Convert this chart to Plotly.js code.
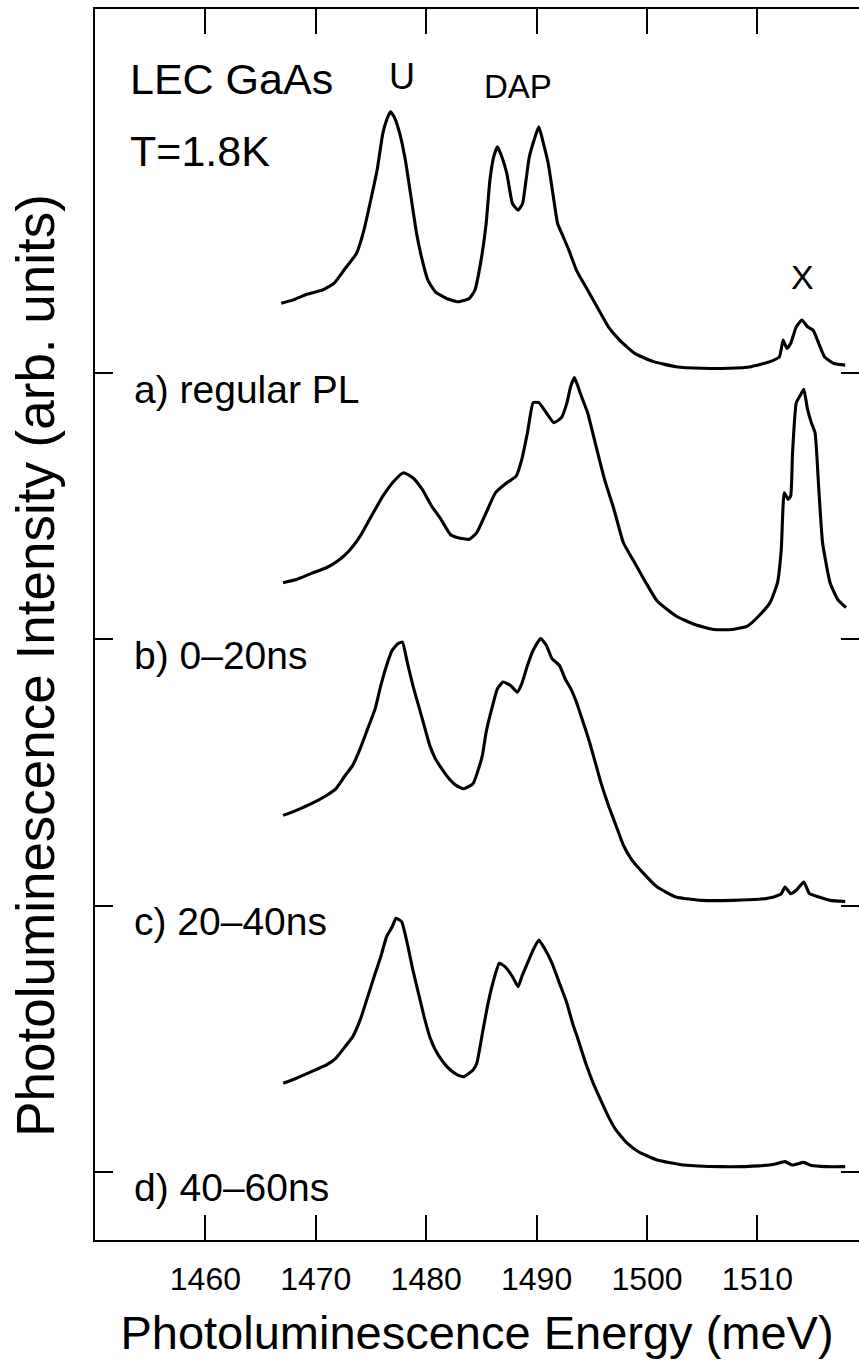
<!DOCTYPE html>
<html>
<head>
<meta charset="utf-8">
<script src="https://cdn.plot.ly/plotly-3.0.1.min.js"></script>
<style>
  html, body { margin: 0; padding: 0; background: #fff; overflow: hidden; }
  #chart { width: 859px; height: 1369px; }
</style>
</head>
<body>
<div id="chart"></div>
<script>
// ---- Data (energy in meV, intensity in arb. units relative to each baseline) ----
const spectrumLabels = ["a) regular PL", "b) 0\u201320ns", "c) 20\u201340ns", "d) 40\u201360ns"];

const energyA = [1466.87,1467.89,1469.26,1470.62,1471.64,1472.66,1473.68,1474.36,1475.04,1475.55,1476.07,1476.41,1476.75,1477.09,1477.60,1478.11,1478.62,1479.13,1479.64,1480.15,1480.83,1481.85,1482.88,1483.90,1484.41,1484.92,1485.43,1485.77,1486.11,1486.45,1486.79,1487.30,1487.81,1488.32,1488.73,1489.00,1489.34,1489.86,1490.20,1490.54,1491.05,1491.56,1491.90,1492.41,1492.92,1493.60,1494.45,1495.47,1496.50,1497.52,1498.88,1500.58,1502.62,1505.01,1507.39,1509.43,1511.14,1511.99,1512.33,1512.67,1513.01,1513.52,1514.03,1514.54,1515.05,1515.56,1516.08,1516.93,1517.95];
const intensityA = [0.262,0.274,0.297,0.312,0.337,0.393,0.449,0.537,0.662,0.762,0.900,0.950,0.981,0.963,0.900,0.800,0.662,0.524,0.424,0.349,0.305,0.280,0.268,0.280,0.312,0.412,0.562,0.725,0.812,0.850,0.819,0.750,0.637,0.612,0.637,0.712,0.812,0.887,0.925,0.875,0.787,0.650,0.562,0.512,0.462,0.387,0.324,0.249,0.174,0.124,0.074,0.043,0.024,0.018,0.018,0.024,0.043,0.061,0.124,0.093,0.111,0.174,0.199,0.174,0.161,0.111,0.061,0.036,0.030];

const energyB = [1467.04,1468.23,1469.60,1470.96,1471.98,1473.00,1474.02,1475.04,1476.07,1477.09,1477.94,1478.79,1479.64,1480.49,1481.34,1482.19,1482.88,1483.90,1484.58,1485.43,1486.28,1487.30,1488.15,1488.66,1489.17,1489.69,1490.20,1490.88,1491.56,1492.24,1492.75,1493.09,1493.43,1493.94,1494.62,1495.30,1496.15,1497.01,1497.86,1498.88,1499.90,1500.92,1502.62,1504.33,1506.03,1507.73,1509.09,1510.12,1511.14,1511.82,1512.16,1512.43,1512.77,1513.01,1513.18,1513.52,1513.93,1514.20,1514.54,1514.88,1515.22,1515.56,1515.90,1516.58,1517.26,1518.02];
const intensityB = [0.213,0.225,0.248,0.269,0.294,0.332,0.388,0.463,0.538,0.595,0.626,0.607,0.563,0.501,0.451,0.394,0.382,0.376,0.401,0.476,0.551,0.588,0.613,0.676,0.776,0.889,0.889,0.851,0.814,0.832,0.889,0.951,0.983,0.926,0.851,0.739,0.601,0.488,0.363,0.288,0.213,0.144,0.088,0.056,0.037,0.037,0.050,0.088,0.138,0.213,0.338,0.551,0.526,0.538,0.701,0.889,0.920,0.939,0.864,0.814,0.776,0.563,0.363,0.213,0.150,0.119];

const energyC = [1467.04,1468.23,1469.60,1470.96,1471.81,1472.66,1473.34,1474.02,1474.70,1475.38,1475.89,1476.41,1476.92,1477.43,1477.84,1478.28,1478.79,1479.30,1479.81,1480.32,1480.83,1481.51,1482.19,1482.70,1483.39,1484.24,1484.75,1485.09,1485.43,1485.94,1486.45,1486.96,1487.64,1488.25,1488.66,1489.17,1489.69,1490.37,1490.88,1491.39,1492.07,1492.58,1493.09,1493.60,1494.11,1494.79,1495.30,1495.81,1496.50,1497.18,1497.86,1498.54,1499.56,1500.92,1502.62,1505.01,1507.73,1510.12,1511.48,1512.16,1512.50,1513.01,1513.52,1514.20,1514.71,1515.56,1516.58,1517.95];
const intensityC = [0.339,0.358,0.383,0.414,0.439,0.489,0.527,0.590,0.665,0.740,0.827,0.902,0.959,0.984,0.990,0.915,0.827,0.752,0.677,0.602,0.552,0.508,0.471,0.452,0.439,0.458,0.515,0.565,0.652,0.740,0.815,0.840,0.827,0.802,0.834,0.902,0.959,1.003,0.978,0.928,0.902,0.852,0.815,0.765,0.702,0.615,0.540,0.464,0.377,0.302,0.227,0.177,0.127,0.070,0.033,0.020,0.020,0.024,0.033,0.045,0.070,0.045,0.058,0.089,0.045,0.033,0.020,0.016];

const energyD = [1467.04,1468.23,1469.60,1470.96,1471.81,1472.66,1473.34,1474.02,1474.70,1475.38,1475.89,1476.41,1476.92,1477.26,1477.77,1478.28,1478.79,1479.30,1479.81,1480.32,1480.83,1481.51,1482.19,1482.88,1483.39,1484.24,1484.58,1485.09,1485.60,1486.11,1486.62,1487.13,1487.81,1488.32,1488.66,1489.17,1489.69,1490.20,1490.71,1491.39,1492.07,1492.75,1493.26,1493.77,1494.45,1495.13,1495.81,1496.50,1497.18,1498.20,1499.22,1500.92,1503.31,1506.71,1510.12,1511.65,1512.50,1513.18,1514.20,1514.88,1516.24,1517.95];
const intensityD = [0.333,0.352,0.377,0.402,0.427,0.471,0.508,0.571,0.658,0.746,0.809,0.884,0.921,0.953,0.940,0.859,0.759,0.671,0.583,0.508,0.458,0.414,0.383,0.364,0.358,0.383,0.408,0.521,0.633,0.721,0.784,0.771,0.734,0.696,0.734,0.784,0.834,0.871,0.840,0.784,0.709,0.633,0.558,0.496,0.408,0.333,0.270,0.208,0.158,0.108,0.076,0.045,0.026,0.020,0.023,0.030,0.039,0.026,0.036,0.024,0.020,0.020];

const xTickValues = [1460, 1470, 1480, 1490, 1500, 1510];
const xTickLabels = ["1460", "1470", "1480", "1490", "1500", "1510"];
const xAxisTitle = "Photoluminescence Energy (meV)";
const yAxisTitle = "Photoluminescence Intensity (arb. units)";

// ---- Presentation ----
const baselineOffsets = [3, 2, 1, 0];
const FONT = "'Liberation Sans', Arial, sans-serif";
const ink = "#000";

const series = [
  [energyA, intensityA],
  [energyB, intensityB],
  [energyC, intensityC],
  [energyD, intensityD]
];

const traces = series.map(([xs, ys], i) => ({
  type: "scatter",
  mode: "lines",
  name: spectrumLabels[i],
  x: xs,
  y: ys.map(v => v + baselineOffsets[i]),
  line: { color: ink, width: 3.1, shape: "spline", smoothing: 0.45 },
  hoverinfo: "skip"
}));

const dataAnnotations = [
  { text: "LEC GaAs", x: 1453.0, y: 4.104, xanchor: "left", yanchor: "middle", size: 43 },
  { text: "T=1.8K", x: 1453.0, y: 3.834, xanchor: "left", yanchor: "middle", size: 43 },
  { text: "U", x: 1477.8, y: 4.112, xanchor: "center", yanchor: "middle", size: 36 },
  { text: "DAP", x: 1488.3, y: 4.078, xanchor: "center", yanchor: "middle", size: 33 },
  { text: "X", x: 1514.1, y: 3.361, xanchor: "center", yanchor: "middle", size: 34 }
].concat(spectrumLabels.map((t, i) => ({
  text: t, x: 1453.35, y: baselineOffsets[i] - 0.06, xanchor: "left", yanchor: "middle", size: 39
}))).map(a => ({
  text: a.text, x: a.x, y: a.y, xref: "x", yref: "y",
  xanchor: a.xanchor, yanchor: a.yanchor, showarrow: false,
  font: { family: FONT, size: a.size, color: ink }
}));

const yTitleAnnotation = {
  text: yAxisTitle,
  xref: "paper", yref: "paper",
  x: -0.079, y: 0.467,
  xanchor: "center", yanchor: "middle",
  textangle: -90, showarrow: false,
  font: { family: FONT, size: 53, color: ink }
};

const layout = {
  width: 859,
  height: 1369,
  margin: { l: 95, r: 0, t: 9, b: 129, pad: 0 },
  paper_bgcolor: "#fff",
  plot_bgcolor: "#fff",
  showlegend: false,
  hovermode: false,
  font: { family: FONT, color: ink },
  xaxis: {
    range: [1450, 1519.2],
    showgrid: false,
    zeroline: false,
    showline: true,
    linecolor: ink,
    linewidth: 2,
    mirror: "ticks",
    ticks: "inside",
    ticklen: 25,
    tickwidth: 2,
    tickcolor: ink,
    tickvals: xTickValues,
    ticktext: xTickLabels,
    ticklabelstandoff: 10,
    tickfont: { family: FONT, size: 32, color: ink },
    title: {
      text: xAxisTitle,
      font: { family: FONT, size: 47, color: ink },
      standoff: 20
    }
  },
  yaxis: {
    range: [-0.2554, 4.3673],
    showgrid: false,
    zeroline: false,
    showline: true,
    linecolor: ink,
    linewidth: 2,
    mirror: "ticks",
    ticks: "inside",
    ticklen: 18,
    tickwidth: 2,
    tickcolor: ink,
    tickvals: baselineOffsets,
    showticklabels: false
  },
  annotations: dataAnnotations.concat([yTitleAnnotation])
};

Plotly.newPlot("chart", traces, layout, { staticPlot: true, displayModeBar: false });
</script>
</body>
</html>
